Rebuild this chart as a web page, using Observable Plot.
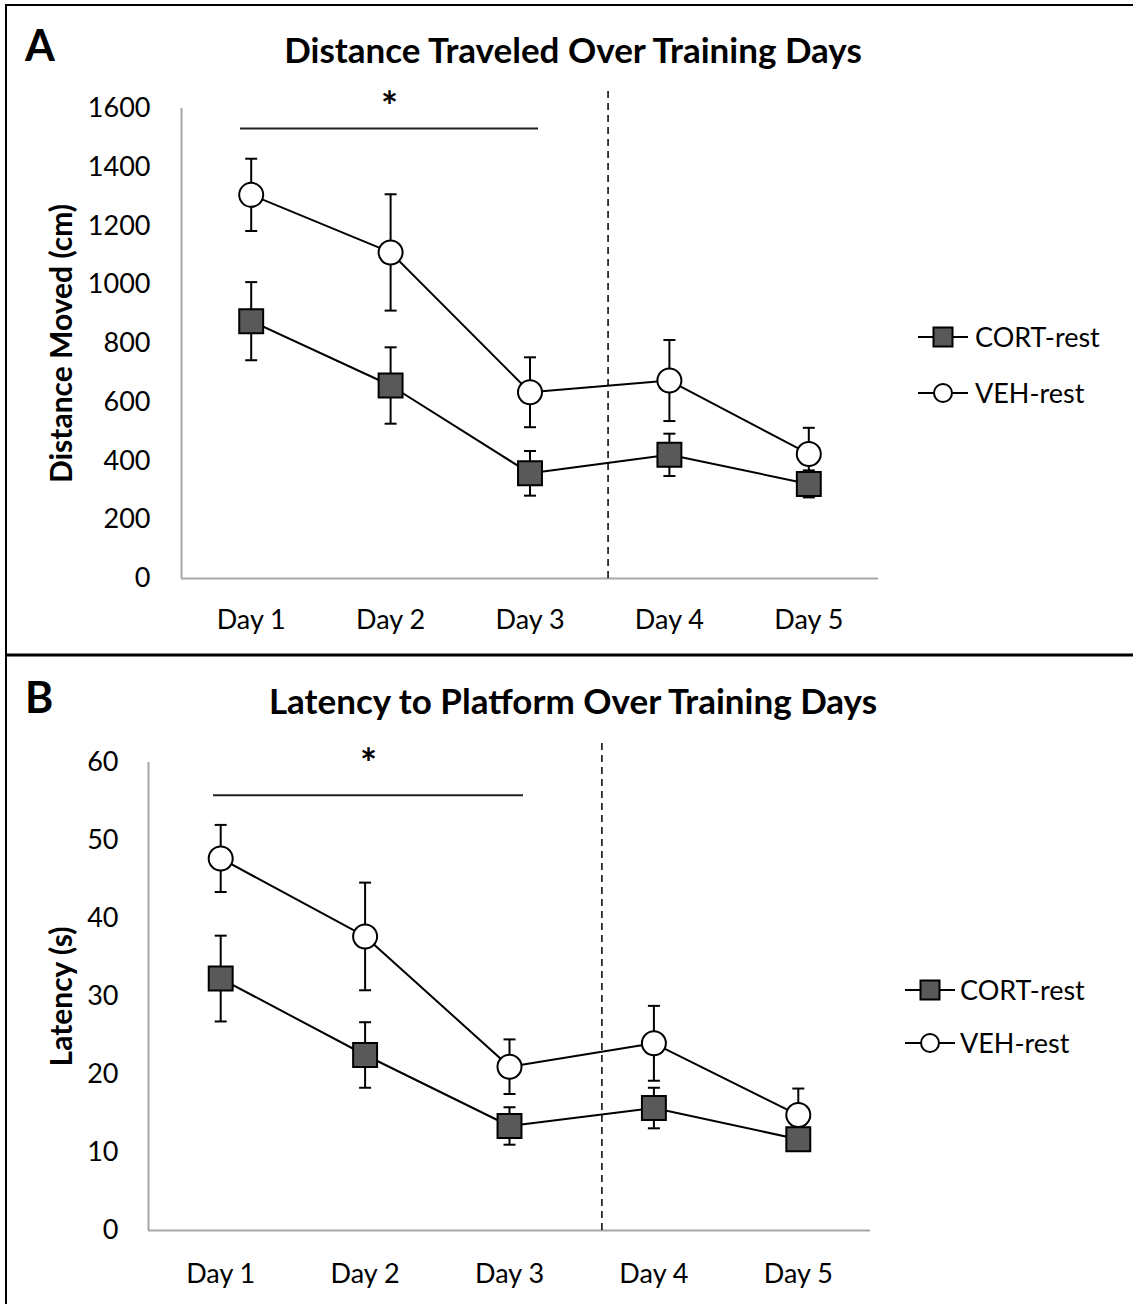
<!DOCTYPE html>
<html><head><meta charset="utf-8">
<script src="https://cdn.jsdelivr.net/npm/d3@7"></script>
<script src="https://cdn.jsdelivr.net/npm/@observablehq/plot@0.6"></script>
<style>
body{margin:0;background:#fff;}
#wrap{position:relative;width:1133px;height:1304px;overflow:hidden;font-family:Lato,sans-serif;background:#fff;}
#wrap > div{position:absolute;left:0;}
#overlay{position:absolute;left:0;top:0;pointer-events:none;}
</style></head><body><div id="wrap"></div>
<script>
// ---- data ----
const days = ["Day 1", "Day 2", "Day 3", "Day 4", "Day 5"];
const groups = ["CORT-rest", "VEH-rest"];
const distCORT    = [876, 657, 358, 421, 322];
const distCORTerr = [133, 130, 76, 72, 46];
const distVEH     = [1306, 1110, 634, 674, 424];
const distVEHerr  = [123, 198, 119, 138, 89];
const latCORT     = [32.3, 22.5, 13.4, 15.7, 11.7];
const latCORTerr  = [5.5, 4.2, 2.4, 2.6, 1.0];
const latVEH      = [47.7, 37.7, 21.0, 24.0, 14.8];
const latVEHerr   = [4.3, 6.9, 3.5, 4.8, 3.4];
const distTicks = [0, 200, 400, 600, 800, 1000, 1200, 1400, 1600];
const latTicks  = [0, 10, 20, 30, 40, 50, 60];
const titles = ["Distance Traveled Over Training Days", "Latency to Platform Over Training Days"];
const letters = ["A", "B"];
const yLabels = ["Distance Moved (cm)", "Latency (s)"];
const sigStar = "*";

const FONT = "Lato, sans-serif";
const capSym = {draw(ctx, size){ const w = Math.sqrt(size / Math.PI); ctx.moveTo(-w, 0); ctx.lineTo(w, 0); }};

const panels = [
  {top: 0, height: 655, mL: 181, mR: 255, mT: 108, mB: 77,
   cort: distCORT, cortErr: distCORTerr, veh: distVEH, vehErr: distVEHerr,
   ticks: distTicks, yMax: 1600, split: 3.56, dashTop: 1660,
   sig: {x1: 0.923, x2: 3.061, y: 1532, starY: 1600},
   ylabDx: -119, xPad: 31, yPad: 31,
   title: titles[0], letter: letters[0], ylabel: yLabels[0],
   legend: {x1: 918, x2: 968, tx: 975, ys: [337, 393]}, titleY: 63, letterY: 61},
  {top: 655, height: 649, mL: 148, mR: 263, mT: 107, mB: 74,
   cort: latCORT, cortErr: latCORTerr, veh: latVEH, vehErr: latVEHerr,
   ticks: latTicks, yMax: 60, split: 3.64, dashTop: 62.6,
   sig: {x1: 0.95, x2: 3.097, y: 55.8, starY: 59.6},
   ylabDx: -86, xPad: 33, yPad: 30,
   title: titles[1], letter: letters[1], ylabel: yLabels[1],
   legend: {x1: 905, x2: 955, tx: 960, ys: [990, 1043]}, titleY: 714, letterY: 713}
];

const wrap = document.getElementById("wrap");

function seriesMarks(data, symbol, fill, r) {
  return [
    Plot.ruleX(data, {x: "day", y1: d => d.value - d.err, y2: d => d.value + d.err, stroke: "black", strokeWidth: 2}),
    Plot.dot(data, {x: "day", y: d => d.value + d.err, symbol: capSym, r: 6, fill: "none", stroke: "black", strokeWidth: 2}),
    Plot.dot(data, {x: "day", y: d => d.value - d.err, symbol: capSym, r: 6, fill: "none", stroke: "black", strokeWidth: 2}),
    Plot.line(data, {x: "day", y: "value", stroke: "black", strokeWidth: 2}),
    Plot.dot(data, {x: "day", y: "value", symbol, r, fill, stroke: "black", strokeWidth: 2})
  ];
}

panels.forEach(p => {
  const cort = days.map((d, i) => ({day: i + 1, value: p.cort[i], err: p.cortErr[i]}));
  const veh  = days.map((d, i) => ({day: i + 1, value: p.veh[i],  err: p.vehErr[i]}));
  const chart = Plot.plot({
    width: 1133, height: p.height,
    marginLeft: p.mL, marginRight: p.mR, marginTop: p.mT, marginBottom: p.mB,
    x: {domain: [0.5, 5.5], label: null},
    y: {domain: [0, p.yMax], label: null},
    style: {fontFamily: FONT, color: "black", background: "transparent", overflow: "visible"},
    marks: [
      Plot.axisX({ticks: [1, 2, 3, 4, 5], tickFormat: d => days[d - 1], tickSize: 0, tickPadding: p.xPad, fontSize: 27, label: null}),
      Plot.axisY({ticks: p.ticks, tickFormat: d => String(d), tickSize: 0, tickPadding: p.yPad, fontSize: 27, label: null}),
      Plot.ruleY([0], {stroke: "#a6a6a6", strokeWidth: 2}),
      Plot.ruleX([0.5], {y1: 0, y2: p.yMax, stroke: "#a6a6a6", strokeWidth: 2}),
      Plot.ruleX([p.split], {y1: 0, y2: p.dashTop, stroke: "black", strokeWidth: 1.5, strokeDasharray: "7,5"}),
      Plot.ruleY([p.sig], {y: "y", x1: "x1", x2: "x2", stroke: "#222", strokeWidth: 2}),
      Plot.text([p.sig], {x: d => (d.x1 + d.x2) / 2, y: "starY", text: () => sigStar, fontSize: 40, fontWeight: "bold"}),
      Plot.text([p.ylabel], {frameAnchor: "left", textAnchor: "middle", dx: p.ylabDx, rotate: -90, fontSize: 30, fontWeight: "bold"}),
      ...seriesMarks(veh, "circle", "white", 12),
      ...seriesMarks(cort, "square", "#595959", 13.5)
    ]
  });
  const holder = document.createElement("div");
  holder.style.top = p.top + "px";
  holder.appendChild(chart);
  wrap.appendChild(holder);
});

// ---- overlay: frame, letters, titles, legends ----
const svg = d3.select(wrap).append("svg").attr("id", "overlay").attr("width", 1133).attr("height", 1304)
  .style("font-family", FONT);
svg.append("line").attr("x1", 5).attr("x2", 1133).attr("y1", 5).attr("y2", 5).attr("stroke", "black").attr("stroke-width", 2);
svg.append("line").attr("x1", 6).attr("x2", 6).attr("y1", 4).attr("y2", 1304).attr("stroke", "black").attr("stroke-width", 2);
svg.append("line").attr("x1", 5).attr("x2", 1133).attr("y1", 655).attr("y2", 655).attr("stroke", "black").attr("stroke-width", 3);

panels.forEach(p => {
  svg.append("text").attr("x", 25).attr("y", p.letterY).attr("font-size", 43).attr("font-weight", "bold").text(p.letter);
  svg.append("text").attr("x", 573).attr("y", p.titleY).attr("text-anchor", "middle").attr("font-size", 35).attr("font-weight", "bold").text(p.title);
  groups.forEach((g, i) => {
    const y = p.legend.ys[i];
    const cx = (p.legend.x1 + p.legend.x2) / 2;
    svg.append("line").attr("x1", p.legend.x1).attr("x2", p.legend.x2).attr("y1", y).attr("y2", y).attr("stroke", "black").attr("stroke-width", 2);
    if (i === 0) {
      svg.append("rect").attr("x", cx - 9.5).attr("y", y - 9.5).attr("width", 19).attr("height", 19).attr("fill", "#595959").attr("stroke", "black").attr("stroke-width", 2);
    } else {
      svg.append("circle").attr("cx", cx).attr("cy", y).attr("r", 9).attr("fill", "white").attr("stroke", "black").attr("stroke-width", 2);
    }
    svg.append("text").attr("x", p.legend.tx).attr("y", y + 9.7).attr("font-size", 27).text(g);
  });
});
</script></body></html>
